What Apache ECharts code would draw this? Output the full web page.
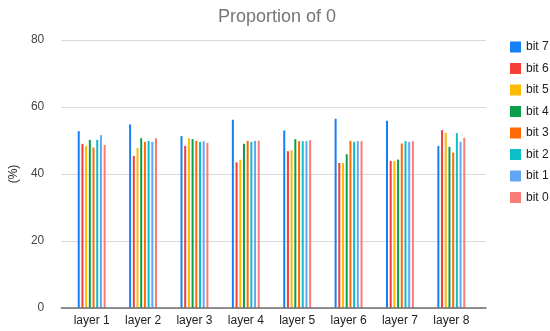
<!DOCTYPE html>
<html><head><meta charset="utf-8">
<script src="https://cdn.jsdelivr.net/npm/echarts@6/dist/echarts.min.js"></script>
<style>html,body{margin:0;padding:0;background:#fff}#c{width:550px;height:331px}</style>
</head><body><div id="c"></div>
<script>
const categories = ['layer 1','layer 2','layer 3','layer 4','layer 5','layer 6','layer 7','layer 8'];
const seriesNames = ['bit 7','bit 6','bit 5','bit 4','bit 3','bit 2','bit 1','bit 0'];
const bit7 = [52.8, 54.8, 51.3, 56.2, 53.0, 56.5, 55.9, 48.4];
const bit6 = [49.0, 45.4, 48.4, 43.5, 46.8, 43.3, 43.9, 53.1];
const bit5 = [48.4, 47.8, 50.7, 44.3, 47.1, 43.3, 43.9, 52.3];
const bit4 = [50.2, 50.7, 50.4, 49.0, 50.4, 45.9, 44.3, 48.1];
const bit3 = [47.9, 49.6, 49.9, 49.9, 49.8, 49.9, 49.1, 46.4];
const bit2 = [50.2, 49.9, 49.6, 49.6, 49.8, 49.6, 49.8, 52.2];
const bit1 = [51.6, 49.6, 49.8, 49.9, 49.8, 49.8, 49.6, 49.6];
const bit0 = [48.7, 50.7, 49.3, 49.9, 50.1, 49.8, 49.8, 50.8];
const yTicks = [0, 20, 40, 60, 80];
const colors = ['#1580f6','#f43e36','#fdbb04','#0c9d4b','#ff6a04','#0dbdc8','#62a6f6','#fa7c76'];

const FONT = '"Liberation Sans", Arial, sans-serif';
const allData = [bit7, bit6, bit5, bit4, bit3, bit2, bit1, bit0];
const chart = echarts.init(document.getElementById('c'));
chart.setOption({
  animation: false,
  title: { text: 'Proportion of 0', left: 213, top: 3,
    textStyle: { fontFamily: FONT, fontSize: 18, fontWeight: 'normal', color: '#757575' } },
  legend: { orient: 'vertical', left: 505, top: 36, itemWidth: 11, itemHeight: 11, itemGap: 9.5,
    icon: 'rect', data: seriesNames,
    textStyle: { fontFamily: FONT, fontSize: 12, color: '#222' } },
  grid: [
    { left: 58, right: 64, top: 40, bottom: 23 },
    { left: 66, right: 73, top: 40, bottom: 23 }
  ],
  xAxis: [
    { gridIndex: 0, type: 'category', data: [''], z: 10,
      axisLine: { show: true, onZero: false, lineStyle: { color: '#6f6f6f', width: 1.5 } },
      axisTick: { show: false }, axisLabel: { show: false }, splitLine: { show: false } },
    { gridIndex: 1, type: 'category', data: categories,
      axisLine: { show: false }, axisTick: { show: false },
      axisLabel: { margin: 7, fontFamily: FONT, fontSize: 12, color: '#222' } }
  ],
  yAxis: [
    { gridIndex: 0, type: 'value', min: 0, max: 80, interval: 20,
      name: '(%)', nameLocation: 'middle', nameGap: 38, nameRotate: 90,
      nameTextStyle: { fontFamily: FONT, fontSize: 12, color: '#222' },
      axisLine: { show: false }, axisTick: { show: false },
      axisLabel: { margin: 17, fontFamily: FONT, fontSize: 12, color: '#444',
        formatter: v => yTicks.includes(v) ? String(v) : '' },
      splitLine: { lineStyle: { color: '#d9d9d9' } } },
    { gridIndex: 1, type: 'value', min: 0, max: 80, interval: 20, show: false }
  ],
  series: seriesNames.map((n, i) => ({
    name: n, type: 'bar', xAxisIndex: 1, yAxisIndex: 1,
    data: allData[i], barWidth: 2, barGap: '85%',
    itemStyle: { color: colors[i] }
  }))
});
</script></body></html>
